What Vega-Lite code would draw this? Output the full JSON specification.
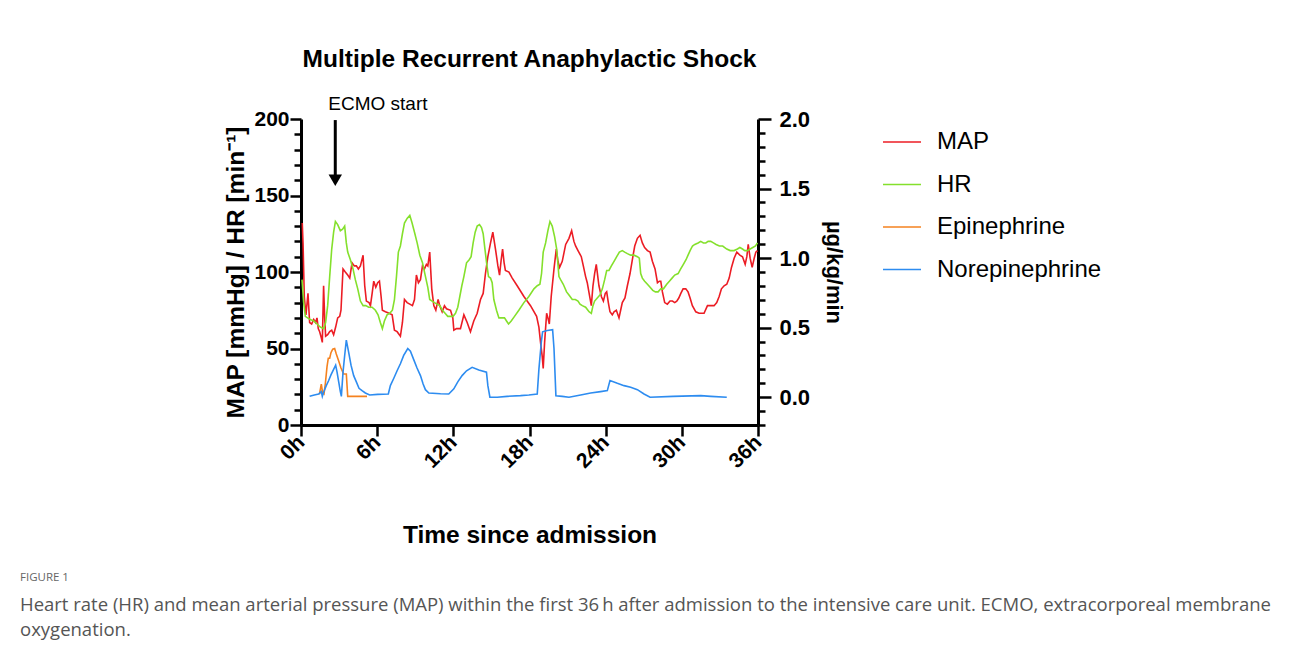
{
  "$schema": "https://vega.github.io/schema/vega-lite/v6.json",
  "padding": {"left": 20, "top": 47, "right": 0, "bottom": 14},
  "background": "white",
  "datasets": {
    "vitals": [
      {"t":0.1,"v":132,"s":"MAP"},{"t":0.16,"v":119,"s":"MAP"},{"t":0.26,"v":84,"s":"MAP"},{"t":0.39,"v":72,"s":"MAP"},{"t":0.55,"v":86,"s":"MAP"},{"t":0.68,"v":67,"s":"MAP"},{"t":0.84,"v":66,"s":"MAP"},{"t":1.0,"v":69,"s":"MAP"},{"t":1.15,"v":67,"s":"MAP"},{"t":1.26,"v":70,"s":"MAP"},{"t":1.36,"v":63,"s":"MAP"},{"t":1.47,"v":61,"s":"MAP"},{"t":1.6,"v":57,"s":"MAP"},{"t":1.68,"v":54,"s":"MAP"},{"t":1.78,"v":91,"s":"MAP"},{"t":1.86,"v":71,"s":"MAP"},{"t":1.94,"v":58,"s":"MAP"},{"t":2.1,"v":59,"s":"MAP"},{"t":2.26,"v":61,"s":"MAP"},{"t":2.42,"v":62,"s":"MAP"},{"t":2.57,"v":59,"s":"MAP"},{"t":2.73,"v":64,"s":"MAP"},{"t":2.89,"v":70,"s":"MAP"},{"t":3.05,"v":71,"s":"MAP"},{"t":3.15,"v":75,"s":"MAP"},{"t":3.31,"v":102,"s":"MAP"},{"t":3.49,"v":100,"s":"MAP"},{"t":3.68,"v":98,"s":"MAP"},{"t":3.84,"v":96,"s":"MAP"},{"t":4.02,"v":106,"s":"MAP"},{"t":4.2,"v":104,"s":"MAP"},{"t":4.36,"v":104,"s":"MAP"},{"t":4.52,"v":102,"s":"MAP"},{"t":4.68,"v":104,"s":"MAP"},{"t":4.89,"v":111,"s":"MAP"},{"t":5.02,"v":91,"s":"MAP"},{"t":5.15,"v":81,"s":"MAP"},{"t":5.36,"v":80,"s":"MAP"},{"t":5.47,"v":78,"s":"MAP"},{"t":5.62,"v":87,"s":"MAP"},{"t":5.73,"v":94,"s":"MAP"},{"t":5.89,"v":90,"s":"MAP"},{"t":6.04,"v":93,"s":"MAP"},{"t":6.18,"v":94,"s":"MAP"},{"t":6.31,"v":84,"s":"MAP"},{"t":6.41,"v":75,"s":"MAP"},{"t":6.65,"v":74,"s":"MAP"},{"t":6.94,"v":73,"s":"MAP"},{"t":7.18,"v":72,"s":"MAP"},{"t":7.36,"v":62,"s":"MAP"},{"t":7.57,"v":61,"s":"MAP"},{"t":7.83,"v":58,"s":"MAP"},{"t":7.99,"v":67,"s":"MAP"},{"t":8.15,"v":82,"s":"MAP"},{"t":8.36,"v":80,"s":"MAP"},{"t":8.57,"v":79,"s":"MAP"},{"t":8.78,"v":78,"s":"MAP"},{"t":8.94,"v":82,"s":"MAP"},{"t":9.09,"v":98,"s":"MAP"},{"t":9.25,"v":93,"s":"MAP"},{"t":9.41,"v":95,"s":"MAP"},{"t":9.57,"v":104,"s":"MAP"},{"t":9.72,"v":102,"s":"MAP"},{"t":9.88,"v":105,"s":"MAP"},{"t":9.99,"v":104,"s":"MAP"},{"t":10.14,"v":113,"s":"MAP"},{"t":10.3,"v":89,"s":"MAP"},{"t":10.46,"v":78,"s":"MAP"},{"t":10.62,"v":75,"s":"MAP"},{"t":10.8,"v":82,"s":"MAP"},{"t":10.93,"v":78,"s":"MAP"},{"t":11.12,"v":74,"s":"MAP"},{"t":11.3,"v":78,"s":"MAP"},{"t":11.46,"v":76,"s":"MAP"},{"t":11.78,"v":75,"s":"MAP"},{"t":11.96,"v":70,"s":"MAP"},{"t":12.04,"v":62,"s":"MAP"},{"t":12.25,"v":63,"s":"MAP"},{"t":12.56,"v":63,"s":"MAP"},{"t":12.83,"v":72,"s":"MAP"},{"t":13.09,"v":67,"s":"MAP"},{"t":13.35,"v":61,"s":"MAP"},{"t":13.61,"v":68,"s":"MAP"},{"t":13.88,"v":73,"s":"MAP"},{"t":14.14,"v":82,"s":"MAP"},{"t":14.35,"v":86,"s":"MAP"},{"t":14.53,"v":99,"s":"MAP"},{"t":14.72,"v":110,"s":"MAP"},{"t":14.93,"v":119,"s":"MAP"},{"t":15.11,"v":126,"s":"MAP"},{"t":15.32,"v":115,"s":"MAP"},{"t":15.51,"v":104,"s":"MAP"},{"t":15.64,"v":98,"s":"MAP"},{"t":15.77,"v":108,"s":"MAP"},{"t":15.88,"v":115,"s":"MAP"},{"t":16.0,"v":106,"s":"MAP"},{"t":16.1,"v":101,"s":"MAP"},{"t":16.38,"v":100,"s":"MAP"},{"t":16.64,"v":96,"s":"MAP"},{"t":17.03,"v":91,"s":"MAP"},{"t":17.56,"v":84,"s":"MAP"},{"t":18.08,"v":78,"s":"MAP"},{"t":18.56,"v":71,"s":"MAP"},{"t":18.74,"v":64,"s":"MAP"},{"t":18.87,"v":54,"s":"MAP"},{"t":19.0,"v":45,"s":"MAP"},{"t":19.08,"v":37,"s":"MAP"},{"t":19.19,"v":54,"s":"MAP"},{"t":19.35,"v":73,"s":"MAP"},{"t":19.45,"v":70,"s":"MAP"},{"t":19.56,"v":66,"s":"MAP"},{"t":19.71,"v":84,"s":"MAP"},{"t":19.93,"v":102,"s":"MAP"},{"t":20.11,"v":115,"s":"MAP"},{"t":20.24,"v":107,"s":"MAP"},{"t":20.37,"v":103,"s":"MAP"},{"t":20.58,"v":107,"s":"MAP"},{"t":20.85,"v":118,"s":"MAP"},{"t":21.11,"v":122,"s":"MAP"},{"t":21.32,"v":127,"s":"MAP"},{"t":21.5,"v":120,"s":"MAP"},{"t":21.63,"v":117,"s":"MAP"},{"t":21.82,"v":114,"s":"MAP"},{"t":22.08,"v":110,"s":"MAP"},{"t":22.24,"v":104,"s":"MAP"},{"t":22.42,"v":97,"s":"MAP"},{"t":22.55,"v":93,"s":"MAP"},{"t":22.74,"v":84,"s":"MAP"},{"t":22.87,"v":78,"s":"MAP"},{"t":23.0,"v":91,"s":"MAP"},{"t":23.13,"v":99,"s":"MAP"},{"t":23.26,"v":105,"s":"MAP"},{"t":23.47,"v":91,"s":"MAP"},{"t":23.66,"v":84,"s":"MAP"},{"t":23.82,"v":81,"s":"MAP"},{"t":23.97,"v":86,"s":"MAP"},{"t":24.08,"v":87,"s":"MAP"},{"t":24.21,"v":80,"s":"MAP"},{"t":24.34,"v":74,"s":"MAP"},{"t":24.52,"v":72,"s":"MAP"},{"t":24.66,"v":74,"s":"MAP"},{"t":24.84,"v":75,"s":"MAP"},{"t":25.05,"v":70,"s":"MAP"},{"t":25.18,"v":75,"s":"MAP"},{"t":25.31,"v":80,"s":"MAP"},{"t":25.52,"v":83,"s":"MAP"},{"t":25.71,"v":91,"s":"MAP"},{"t":25.92,"v":99,"s":"MAP"},{"t":26.1,"v":108,"s":"MAP"},{"t":26.29,"v":117,"s":"MAP"},{"t":26.5,"v":122,"s":"MAP"},{"t":26.71,"v":124,"s":"MAP"},{"t":26.89,"v":119,"s":"MAP"},{"t":27.07,"v":116,"s":"MAP"},{"t":27.29,"v":114,"s":"MAP"},{"t":27.5,"v":113,"s":"MAP"},{"t":27.68,"v":107,"s":"MAP"},{"t":27.89,"v":102,"s":"MAP"},{"t":28.08,"v":93,"s":"MAP"},{"t":28.23,"v":94,"s":"MAP"},{"t":28.34,"v":94,"s":"MAP"},{"t":28.47,"v":87,"s":"MAP"},{"t":28.65,"v":80,"s":"MAP"},{"t":28.86,"v":79,"s":"MAP"},{"t":29.07,"v":81,"s":"MAP"},{"t":29.26,"v":81,"s":"MAP"},{"t":29.44,"v":80,"s":"MAP"},{"t":29.6,"v":81,"s":"MAP"},{"t":29.76,"v":83,"s":"MAP"},{"t":29.92,"v":86,"s":"MAP"},{"t":30.1,"v":89,"s":"MAP"},{"t":30.31,"v":89,"s":"MAP"},{"t":30.49,"v":87,"s":"MAP"},{"t":30.65,"v":83,"s":"MAP"},{"t":30.83,"v":78,"s":"MAP"},{"t":31.1,"v":74,"s":"MAP"},{"t":31.36,"v":73,"s":"MAP"},{"t":31.75,"v":73,"s":"MAP"},{"t":32.02,"v":78,"s":"MAP"},{"t":32.28,"v":78,"s":"MAP"},{"t":32.54,"v":78,"s":"MAP"},{"t":32.75,"v":80,"s":"MAP"},{"t":32.94,"v":84,"s":"MAP"},{"t":33.12,"v":89,"s":"MAP"},{"t":33.33,"v":91,"s":"MAP"},{"t":33.54,"v":92,"s":"MAP"},{"t":33.73,"v":96,"s":"MAP"},{"t":33.91,"v":103,"s":"MAP"},{"t":34.12,"v":109,"s":"MAP"},{"t":34.33,"v":113,"s":"MAP"},{"t":34.57,"v":111,"s":"MAP"},{"t":34.78,"v":110,"s":"MAP"},{"t":34.99,"v":105,"s":"MAP"},{"t":35.12,"v":110,"s":"MAP"},{"t":35.23,"v":118,"s":"MAP"},{"t":35.38,"v":109,"s":"MAP"},{"t":35.54,"v":103,"s":"MAP"},{"t":35.7,"v":109,"s":"MAP"},{"t":35.83,"v":113,"s":"MAP"},{"t":35.96,"v":114,"s":"MAP"},
      {"t":0.08,"v":95,"s":"HR"},{"t":0.21,"v":80,"s":"HR"},{"t":0.34,"v":71,"s":"HR"},{"t":0.52,"v":70,"s":"HR"},{"t":0.73,"v":69,"s":"HR"},{"t":1.0,"v":68,"s":"HR"},{"t":1.26,"v":66,"s":"HR"},{"t":1.52,"v":64,"s":"HR"},{"t":1.78,"v":63,"s":"HR"},{"t":1.94,"v":67,"s":"HR"},{"t":2.1,"v":78,"s":"HR"},{"t":2.26,"v":97,"s":"HR"},{"t":2.42,"v":115,"s":"HR"},{"t":2.57,"v":126,"s":"HR"},{"t":2.71,"v":133,"s":"HR"},{"t":2.89,"v":131,"s":"HR"},{"t":3.1,"v":127,"s":"HR"},{"t":3.28,"v":128,"s":"HR"},{"t":3.44,"v":130,"s":"HR"},{"t":3.57,"v":119,"s":"HR"},{"t":3.68,"v":113,"s":"HR"},{"t":3.89,"v":108,"s":"HR"},{"t":4.1,"v":102,"s":"HR"},{"t":4.28,"v":95,"s":"HR"},{"t":4.47,"v":89,"s":"HR"},{"t":4.68,"v":81,"s":"HR"},{"t":4.89,"v":78,"s":"HR"},{"t":5.1,"v":78,"s":"HR"},{"t":5.33,"v":77,"s":"HR"},{"t":5.6,"v":77,"s":"HR"},{"t":5.86,"v":75,"s":"HR"},{"t":6.07,"v":72,"s":"HR"},{"t":6.25,"v":67,"s":"HR"},{"t":6.41,"v":63,"s":"HR"},{"t":6.57,"v":68,"s":"HR"},{"t":6.78,"v":72,"s":"HR"},{"t":6.99,"v":73,"s":"HR"},{"t":7.2,"v":75,"s":"HR"},{"t":7.36,"v":82,"s":"HR"},{"t":7.52,"v":97,"s":"HR"},{"t":7.67,"v":113,"s":"HR"},{"t":7.83,"v":117,"s":"HR"},{"t":7.99,"v":125,"s":"HR"},{"t":8.15,"v":132,"s":"HR"},{"t":8.36,"v":135,"s":"HR"},{"t":8.57,"v":137,"s":"HR"},{"t":8.75,"v":132,"s":"HR"},{"t":8.94,"v":126,"s":"HR"},{"t":9.15,"v":119,"s":"HR"},{"t":9.36,"v":111,"s":"HR"},{"t":9.57,"v":106,"s":"HR"},{"t":9.78,"v":98,"s":"HR"},{"t":9.99,"v":90,"s":"HR"},{"t":10.14,"v":82,"s":"HR"},{"t":10.33,"v":81,"s":"HR"},{"t":10.51,"v":80,"s":"HR"},{"t":10.72,"v":79,"s":"HR"},{"t":10.93,"v":78,"s":"HR"},{"t":11.14,"v":75,"s":"HR"},{"t":11.35,"v":73,"s":"HR"},{"t":11.56,"v":71,"s":"HR"},{"t":11.77,"v":71,"s":"HR"},{"t":11.98,"v":71,"s":"HR"},{"t":12.17,"v":73,"s":"HR"},{"t":12.35,"v":77,"s":"HR"},{"t":12.51,"v":84,"s":"HR"},{"t":12.67,"v":91,"s":"HR"},{"t":12.83,"v":97,"s":"HR"},{"t":13.04,"v":106,"s":"HR"},{"t":13.25,"v":108,"s":"HR"},{"t":13.4,"v":110,"s":"HR"},{"t":13.56,"v":119,"s":"HR"},{"t":13.72,"v":126,"s":"HR"},{"t":13.88,"v":130,"s":"HR"},{"t":14.06,"v":131,"s":"HR"},{"t":14.22,"v":129,"s":"HR"},{"t":14.35,"v":125,"s":"HR"},{"t":14.49,"v":115,"s":"HR"},{"t":14.62,"v":106,"s":"HR"},{"t":14.77,"v":97,"s":"HR"},{"t":14.93,"v":96,"s":"HR"},{"t":15.06,"v":93,"s":"HR"},{"t":15.19,"v":82,"s":"HR"},{"t":15.4,"v":75,"s":"HR"},{"t":15.59,"v":70,"s":"HR"},{"t":15.8,"v":70,"s":"HR"},{"t":16.03,"v":70,"s":"HR"},{"t":16.19,"v":68,"s":"HR"},{"t":16.35,"v":66,"s":"HR"},{"t":16.56,"v":68,"s":"HR"},{"t":16.82,"v":71,"s":"HR"},{"t":17.16,"v":75,"s":"HR"},{"t":17.56,"v":80,"s":"HR"},{"t":17.95,"v":84,"s":"HR"},{"t":18.35,"v":89,"s":"HR"},{"t":18.61,"v":91,"s":"HR"},{"t":18.82,"v":92,"s":"HR"},{"t":18.95,"v":99,"s":"HR"},{"t":19.08,"v":113,"s":"HR"},{"t":19.27,"v":119,"s":"HR"},{"t":19.45,"v":127,"s":"HR"},{"t":19.61,"v":133,"s":"HR"},{"t":19.79,"v":130,"s":"HR"},{"t":19.98,"v":123,"s":"HR"},{"t":20.14,"v":115,"s":"HR"},{"t":20.32,"v":97,"s":"HR"},{"t":20.45,"v":95,"s":"HR"},{"t":20.66,"v":92,"s":"HR"},{"t":20.92,"v":87,"s":"HR"},{"t":21.11,"v":85,"s":"HR"},{"t":21.37,"v":82,"s":"HR"},{"t":21.61,"v":82,"s":"HR"},{"t":21.82,"v":81,"s":"HR"},{"t":21.98,"v":79,"s":"HR"},{"t":22.16,"v":78,"s":"HR"},{"t":22.42,"v":77,"s":"HR"},{"t":22.69,"v":74,"s":"HR"},{"t":22.87,"v":73,"s":"HR"},{"t":23.0,"v":78,"s":"HR"},{"t":23.13,"v":81,"s":"HR"},{"t":23.34,"v":83,"s":"HR"},{"t":23.55,"v":85,"s":"HR"},{"t":23.74,"v":89,"s":"HR"},{"t":23.92,"v":95,"s":"HR"},{"t":24.08,"v":101,"s":"HR"},{"t":24.26,"v":101,"s":"HR"},{"t":24.45,"v":104,"s":"HR"},{"t":24.66,"v":107,"s":"HR"},{"t":24.87,"v":110,"s":"HR"},{"t":25.08,"v":113,"s":"HR"},{"t":25.31,"v":114,"s":"HR"},{"t":25.5,"v":113,"s":"HR"},{"t":25.71,"v":112,"s":"HR"},{"t":25.97,"v":111,"s":"HR"},{"t":26.23,"v":111,"s":"HR"},{"t":26.5,"v":110,"s":"HR"},{"t":26.65,"v":109,"s":"HR"},{"t":26.76,"v":99,"s":"HR"},{"t":26.89,"v":96,"s":"HR"},{"t":27.07,"v":94,"s":"HR"},{"t":27.29,"v":92,"s":"HR"},{"t":27.5,"v":90,"s":"HR"},{"t":27.71,"v":88,"s":"HR"},{"t":27.92,"v":87,"s":"HR"},{"t":28.13,"v":87,"s":"HR"},{"t":28.34,"v":89,"s":"HR"},{"t":28.55,"v":89,"s":"HR"},{"t":28.81,"v":92,"s":"HR"},{"t":29.02,"v":94,"s":"HR"},{"t":29.23,"v":96,"s":"HR"},{"t":29.44,"v":98,"s":"HR"},{"t":29.71,"v":99,"s":"HR"},{"t":29.91,"v":102,"s":"HR"},{"t":30.12,"v":105,"s":"HR"},{"t":30.33,"v":108,"s":"HR"},{"t":30.49,"v":111,"s":"HR"},{"t":30.65,"v":114,"s":"HR"},{"t":30.84,"v":117,"s":"HR"},{"t":31.02,"v":118,"s":"HR"},{"t":31.28,"v":119,"s":"HR"},{"t":31.49,"v":120,"s":"HR"},{"t":31.7,"v":119,"s":"HR"},{"t":31.89,"v":119,"s":"HR"},{"t":32.07,"v":120,"s":"HR"},{"t":32.28,"v":120,"s":"HR"},{"t":32.49,"v":119,"s":"HR"},{"t":32.7,"v":118,"s":"HR"},{"t":32.96,"v":117,"s":"HR"},{"t":33.22,"v":117,"s":"HR"},{"t":33.54,"v":115,"s":"HR"},{"t":33.81,"v":114,"s":"HR"},{"t":34.12,"v":114,"s":"HR"},{"t":34.38,"v":115,"s":"HR"},{"t":34.57,"v":116,"s":"HR"},{"t":34.78,"v":115,"s":"HR"},{"t":34.96,"v":114,"s":"HR"},{"t":35.17,"v":114,"s":"HR"},{"t":35.38,"v":115,"s":"HR"},{"t":35.59,"v":116,"s":"HR"},{"t":35.8,"v":117,"s":"HR"},{"t":35.96,"v":119,"s":"HR"}
    ],
    "drugs": [
      {"t":1.45,"r":0.02,"s":"Epinephrine"},{"t":1.6,"r":0.093,"s":"Epinephrine"},{"t":1.71,"r":0.03,"s":"Epinephrine"},{"t":1.81,"r":0.023,"s":"Epinephrine"},{"t":1.92,"r":0.1,"s":"Epinephrine"},{"t":2.05,"r":0.22,"s":"Epinephrine"},{"t":2.15,"r":0.28,"s":"Epinephrine"},{"t":2.26,"r":0.28,"s":"Epinephrine"},{"t":2.36,"r":0.32,"s":"Epinephrine"},{"t":2.5,"r":0.345,"s":"Epinephrine"},{"t":2.65,"r":0.35,"s":"Epinephrine"},{"t":2.78,"r":0.31,"s":"Epinephrine"},{"t":2.97,"r":0.26,"s":"Epinephrine"},{"t":3.15,"r":0.21,"s":"Epinephrine"},{"t":3.36,"r":0.167,"s":"Epinephrine"},{"t":3.57,"r":0.167,"s":"Epinephrine"},{"t":3.68,"r":0.006,"s":"Epinephrine"},{"t":4.5,"r":0.006,"s":"Epinephrine"},{"t":5.2,"r":0.006,"s":"Epinephrine"},
      {"t":0.68,"r":0.006,"s":"Norepinephrine"},{"t":1.05,"r":0.016,"s":"Norepinephrine"},{"t":1.39,"r":0.023,"s":"Norepinephrine"},{"t":1.6,"r":0.04,"s":"Norepinephrine"},{"t":1.68,"r":0.006,"s":"Norepinephrine"},{"t":1.78,"r":0.035,"s":"Norepinephrine"},{"t":1.99,"r":0.083,"s":"Norepinephrine"},{"t":2.18,"r":0.12,"s":"Norepinephrine"},{"t":2.36,"r":0.16,"s":"Norepinephrine"},{"t":2.57,"r":0.2,"s":"Norepinephrine"},{"t":2.73,"r":0.23,"s":"Norepinephrine"},{"t":2.84,"r":0.18,"s":"Norepinephrine"},{"t":2.97,"r":0.11,"s":"Norepinephrine"},{"t":3.1,"r":0.04,"s":"Norepinephrine"},{"t":3.18,"r":0.006,"s":"Norepinephrine"},{"t":3.31,"r":0.18,"s":"Norepinephrine"},{"t":3.44,"r":0.3,"s":"Norepinephrine"},{"t":3.57,"r":0.41,"s":"Norepinephrine"},{"t":3.76,"r":0.32,"s":"Norepinephrine"},{"t":3.94,"r":0.23,"s":"Norepinephrine"},{"t":4.15,"r":0.155,"s":"Norepinephrine"},{"t":4.36,"r":0.11,"s":"Norepinephrine"},{"t":4.57,"r":0.064,"s":"Norepinephrine"},{"t":4.81,"r":0.047,"s":"Norepinephrine"},{"t":5.07,"r":0.03,"s":"Norepinephrine"},{"t":5.41,"r":0.016,"s":"Norepinephrine"},{"t":6.04,"r":0.02,"s":"Norepinephrine"},{"t":6.88,"r":0.023,"s":"Norepinephrine"},{"t":7.04,"r":0.083,"s":"Norepinephrine"},{"t":7.31,"r":0.136,"s":"Norepinephrine"},{"t":7.57,"r":0.19,"s":"Norepinephrine"},{"t":7.83,"r":0.24,"s":"Norepinephrine"},{"t":8.09,"r":0.3,"s":"Norepinephrine"},{"t":8.41,"r":0.35,"s":"Norepinephrine"},{"t":8.62,"r":0.33,"s":"Norepinephrine"},{"t":8.88,"r":0.27,"s":"Norepinephrine"},{"t":9.14,"r":0.21,"s":"Norepinephrine"},{"t":9.41,"r":0.155,"s":"Norepinephrine"},{"t":9.62,"r":0.095,"s":"Norepinephrine"},{"t":9.8,"r":0.054,"s":"Norepinephrine"},{"t":10.07,"r":0.03,"s":"Norepinephrine"},{"t":10.99,"r":0.025,"s":"Norepinephrine"},{"t":11.64,"r":0.023,"s":"Norepinephrine"},{"t":12.04,"r":0.06,"s":"Norepinephrine"},{"t":12.35,"r":0.11,"s":"Norepinephrine"},{"t":12.69,"r":0.155,"s":"Norepinephrine"},{"t":13.04,"r":0.19,"s":"Norepinephrine"},{"t":13.48,"r":0.215,"s":"Norepinephrine"},{"t":14.01,"r":0.195,"s":"Norepinephrine"},{"t":14.61,"r":0.18,"s":"Norepinephrine"},{"t":14.72,"r":0.083,"s":"Norepinephrine"},{"t":14.88,"r":0.0,"s":"Norepinephrine"},{"t":15.46,"r":0.0,"s":"Norepinephrine"},{"t":16.24,"r":0.006,"s":"Norepinephrine"},{"t":17.29,"r":0.011,"s":"Norepinephrine"},{"t":17.95,"r":0.016,"s":"Norepinephrine"},{"t":18.61,"r":0.023,"s":"Norepinephrine"},{"t":18.74,"r":0.2,"s":"Norepinephrine"},{"t":18.93,"r":0.395,"s":"Norepinephrine"},{"t":19.03,"r":0.47,"s":"Norepinephrine"},{"t":19.4,"r":0.48,"s":"Norepinephrine"},{"t":19.82,"r":0.485,"s":"Norepinephrine"},{"t":19.93,"r":0.35,"s":"Norepinephrine"},{"t":20.08,"r":0.01,"s":"Norepinephrine"},{"t":20.58,"r":0.006,"s":"Norepinephrine"},{"t":21.11,"r":0.0,"s":"Norepinephrine"},{"t":22.03,"r":0.016,"s":"Norepinephrine"},{"t":22.82,"r":0.03,"s":"Norepinephrine"},{"t":23.6,"r":0.04,"s":"Norepinephrine"},{"t":24.13,"r":0.047,"s":"Norepinephrine"},{"t":24.34,"r":0.12,"s":"Norepinephrine"},{"t":24.92,"r":0.1,"s":"Norepinephrine"},{"t":25.45,"r":0.083,"s":"Norepinephrine"},{"t":25.97,"r":0.071,"s":"Norepinephrine"},{"t":26.5,"r":0.054,"s":"Norepinephrine"},{"t":27.02,"r":0.023,"s":"Norepinephrine"},{"t":27.5,"r":0.0,"s":"Norepinephrine"},{"t":29.31,"r":0.006,"s":"Norepinephrine"},{"t":31.49,"r":0.011,"s":"Norepinephrine"},{"t":32.28,"r":0.006,"s":"Norepinephrine"},{"t":33.54,"r":0.0,"s":"Norepinephrine"}
    ],
    "ecmo": [
      {"t":2.7,"top":199.3,"bottom":163,"tip":160,"tx":2.15,"ty":210,"label":"ECMO start"}
    ]
  },
  "title": {
    "text": "FIGURE 1",
    "subtitle": ["Heart rate (HR) and mean arterial pressure (MAP) within the first 36\u2009h after admission to the intensive care unit. ECMO, extracorporeal membrane", "oxygenation."],
    "orient": "bottom",
    "anchor": "start",
    "frame": "group",
    "dx": -281,
    "offset": 25,
    "font": "Open Sans",
    "fontSize": 11.5,
    "fontWeight": "normal",
    "color": "#666666",
    "subtitleFont": "Open Sans",
    "subtitleFontSize": 18.5,
    "subtitleColor": "#555555",
    "subtitleLineHeight": 25,
    "subtitlePadding": 12
  },
  "vconcat": [
    {
      "width": 457,
      "height": 306,
      "title": {
        "text": "Multiple Recurrent Anaphylactic Shock",
        "anchor": "middle",
        "frame": "group",
        "font": "Liberation Sans",
        "fontSize": 24.5,
        "fontWeight": "bold",
        "color": "#000000",
        "offset": 22
      },
      "layer": [
        {
          "layer": [
            {
              "data": {"name": "vitals"},
              "mark": {"type": "line", "strokeWidth": 1.6},
              "encoding": {
                "x": {"field": "t", "type": "quantitative",
                  "scale": {"domain": [0, 36], "nice": false, "zero": false},
                  "axis": {
                    "title": "Time since admission",
                    "values": [0, 6, 12, 18, 24, 30, 36],
                    "labelExpr": "datum.value + 'h'",
                    "labelAngle": -45,
                    "labelAlign": "right",
                    "labelBaseline": "middle",
                    "labelFontSize": 21,
                    "labelFontWeight": "bold",
                    "labelPadding": 3,
                    "labelOverlap": false,
                    "tickSize": 11,
                    "titleFontSize": 24.5,
                    "titleFontWeight": "bold",
                    "titlePadding": 52
                  }
                },
                "y": {"field": "v", "type": "quantitative",
                  "scale": {"domain": [0, 200], "nice": false},
                  "axis": {
                    "orient": "left",
                    "title": "MAP [mmHg] / HR [min\u207b\u00b9]",
                    "values": [0,10,20,30,40,50,60,70,80,90,100,110,120,130,140,150,160,170,180,190,200],
                    "labelExpr": "datum.value % 50 === 0 ? datum.label : ''",
                    "labelOverlap": false,
                    "labelBound": false,
                    "tickSize": {"condition": {"test": "datum.value % 50 === 0", "value": 11}, "value": 7},
                    "labelFontSize": 21,
                    "labelFontWeight": "bold",
                    "labelPadding": 1,
                    "titleFontSize": 24.5,
                    "titleFontWeight": "bold",
                    "titlePadding": 5
                  }
                },
                "color": {"field": "s", "type": "nominal",
                  "scale": {"domain": ["MAP", "HR", "Epinephrine", "Norepinephrine"], "range": ["#ec1c24", "#84e02c", "#f5821f", "#2d8cf0"]},
                  "legend": {
                    "title": null,
                    "orient": "none",
                    "legendX": 581,
                    "legendY": 3,
                    "symbolType": "stroke",
                    "symbolSize": 1444,
                    "symbolStrokeWidth": 1.6,
                    "labelFont": "Liberation Sans",
                    "labelFontSize": 24,
                    "labelLimit": 400,
                    "labelColor": "#000000",
                    "labelOffset": 15,
                    "rowPadding": 10.5,
                    "padding": 0
                  }
                }
              }
            },
            {
              "data": {"name": "ecmo"},
              "mark": {"type": "rule", "strokeWidth": 3, "color": "#000000"},
              "encoding": {
                "x": {"field": "t", "type": "quantitative"},
                "y": {"field": "top", "type": "quantitative",
                  "axis": {
                    "orient": "left",
                    "title": "MAP [mmHg] / HR [min\u207b\u00b9]",
                    "values": [0,10,20,30,40,50,60,70,80,90,100,110,120,130,140,150,160,170,180,190,200],
                    "labelExpr": "datum.value % 50 === 0 ? datum.label : ''",
                    "labelOverlap": false,
                    "labelBound": false,
                    "tickSize": {"condition": {"test": "datum.value % 50 === 0", "value": 11}, "value": 7},
                    "labelFontSize": 21,
                    "labelFontWeight": "bold",
                    "labelPadding": 1,
                    "titleFontSize": 24.5,
                    "titleFontWeight": "bold",
                    "titlePadding": 5
                  }
                },
                "y2": {"field": "bottom"}
              }
            },
            {
              "data": {"name": "ecmo"},
              "mark": {"type": "point", "shape": "triangle-down", "filled": true, "size": 180, "color": "#000000", "opacity": 1},
              "encoding": {
                "x": {"field": "t", "type": "quantitative"},
                "y": {"field": "tip", "type": "quantitative",
                  "axis": {
                    "orient": "left",
                    "title": "MAP [mmHg] / HR [min\u207b\u00b9]",
                    "values": [0,10,20,30,40,50,60,70,80,90,100,110,120,130,140,150,160,170,180,190,200],
                    "labelExpr": "datum.value % 50 === 0 ? datum.label : ''",
                    "labelOverlap": false,
                    "labelBound": false,
                    "tickSize": {"condition": {"test": "datum.value % 50 === 0", "value": 11}, "value": 7},
                    "labelFontSize": 21,
                    "labelFontWeight": "bold",
                    "labelPadding": 1,
                    "titleFontSize": 24.5,
                    "titleFontWeight": "bold",
                    "titlePadding": 5
                  }
                }
              }
            },
            {
              "data": {"name": "ecmo"},
              "mark": {"type": "text", "align": "left", "baseline": "middle", "fontSize": 19, "font": "Liberation Sans", "color": "#000000"},
              "encoding": {
                "x": {"field": "tx", "type": "quantitative"},
                "y": {"field": "ty", "type": "quantitative",
                  "axis": {
                    "orient": "left",
                    "title": "MAP [mmHg] / HR [min\u207b\u00b9]",
                    "values": [0,10,20,30,40,50,60,70,80,90,100,110,120,130,140,150,160,170,180,190,200],
                    "labelExpr": "datum.value % 50 === 0 ? datum.label : ''",
                    "labelOverlap": false,
                    "labelBound": false,
                    "tickSize": {"condition": {"test": "datum.value % 50 === 0", "value": 11}, "value": 7},
                    "labelFontSize": 21,
                    "labelFontWeight": "bold",
                    "labelPadding": 1,
                    "titleFontSize": 24.5,
                    "titleFontWeight": "bold",
                    "titlePadding": 5
                  }
                },
                "text": {"field": "label"}
              }
            }
          ]
        },
        {
          "data": {"name": "drugs"},
          "mark": {"type": "line", "strokeWidth": 1.6},
          "encoding": {
            "x": {"field": "t", "type": "quantitative"},
            "y": {"field": "r", "type": "quantitative",
              "scale": {"domain": [-0.2, 2.0], "nice": false, "zero": false},
              "axis": {
                "orient": "right",
                "title": "\u00b5g/kg/min",
                "values": [-0.2,-0.1,0,0.1,0.2,0.3,0.4,0.5,0.6,0.7,0.8,0.9,1.0,1.1,1.2,1.3,1.4,1.5,1.6,1.7,1.8,1.9,2.0],
                "labelExpr": "abs(datum.value*2 - round(datum.value*2)) < 0.001 ? format(datum.value, '.1f') : ''",
                "labelOverlap": false,
                "labelBound": false,
                "tickSize": {"condition": {"test": "abs(datum.value*2 - round(datum.value*2)) < 0.001", "value": 13}, "value": 7},
                "labelFontSize": 22,
                "labelFontWeight": "bold",
                "labelPadding": 8,
                "titleFontSize": 22,
                "titleFontWeight": "bold",
                "titlePadding": 12
              }
            },
            "color": {"field": "s", "type": "nominal"}
          }
        }
      ],
      "resolve": {"scale": {"y": "independent"}}
    }
  ],
  "config": {
    "view": {"stroke": null},
    "font": "Liberation Sans",
    "axis": {
      "grid": false,
      "domainColor": "#000000",
      "domainWidth": 3,
      "tickColor": "#000000",
      "tickWidth": 2.5,
      "labelColor": "#000000",
      "titleColor": "#000000",
      "labelFont": "Liberation Sans",
      "titleFont": "Liberation Sans"
    }
  }
}
